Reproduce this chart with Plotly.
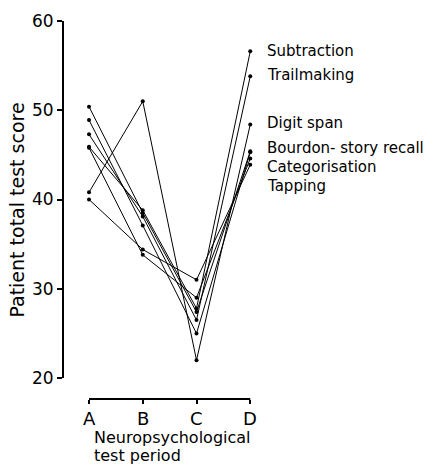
import plotly.graph_objects as go

periods = ["A", "B", "C", "D"]
series_names = ["Subtraction", "Trailmaking", "Digit span", "Bourdon", "Story recall", "Categorisation", "Tapping"]
subtraction = [45.9, 38.8, 27.8, 56.6]
trailmaking = [47.3, 38.1, 26.5, 53.8]
digit_span = [40.8, 51.0, 22.0, 48.4]
bourdon = [50.4, 38.5, 27.4, 45.4]
story_recall = [48.9, 37.1, 25.0, 45.3]
categorisation = [45.8, 33.8, 29.0, 44.6]
tapping = [40.0, 34.4, 31.0, 43.9]
all_series = [subtraction, trailmaking, digit_span, bourdon, story_recall, categorisation, tapping]

label_texts = ["Subtraction", "Trailmaking", "Digit span", "Bourdon- story recall", "Categorisation", "Tapping"]
label_y = [56.6, 53.9, 48.6, 45.8, 43.6, 41.5]
y_ticks = [20, 30, 40, 50, 60]

FONT = "DejaVu Sans"
fig = go.Figure()
for name, vals in zip(series_names, all_series):
    fig.add_trace(go.Scatter(
        x=periods, y=vals, mode="lines+markers", name=name,
        line=dict(color="black", width=1),
        marker=dict(color="black", size=4),
        showlegend=False, cliponaxis=False, hoverinfo="skip",
    ))

for t, yv in zip(label_texts, label_y):
    fig.add_annotation(x=1.02, y=yv, xref="paper", yref="y", text=t, showarrow=False,
                       xanchor="left", yanchor="middle",
                       font=dict(family=FONT, size=15, color="black"))

# x tick labels
for p in periods:
    fig.add_annotation(x=p, y=0, xref="x", yref="paper", text=p, showarrow=False,
                       xanchor="center", yanchor="middle", yshift=-19,
                       font=dict(family=FONT, size=18, color="black"))

# axis lines (y axis only spans 20-60, x axis only spans A-D)
fig.add_shape(type="line", xref="paper", yref="y", x0=0, x1=0, y0=20, y1=60,
              line=dict(color="black", width=2))
fig.add_shape(type="line", xref="x", yref="paper", x0=0, x1=3, y0=0, y1=0,
              line=dict(color="black", width=2))

fig.add_annotation(x=0, y=0, xref="x", yref="paper", xanchor="left", yanchor="middle",
                   text="Neuropsychological", showarrow=False, yshift=-38, xshift=3,
                   font=dict(family=FONT, size=16, color="black"))
fig.add_annotation(x=0, y=0, xref="x", yref="paper", xanchor="left", yanchor="middle",
                   text="test period", showarrow=False, yshift=-56, xshift=3,
                   font=dict(family=FONT, size=16, color="black"))

fig.update_layout(
    width=435, height=465,
    margin=dict(l=63, r=174, t=21, b=66),
    paper_bgcolor="white", plot_bgcolor="white",
    font=dict(family=FONT, size=16, color="black"),
    xaxis=dict(type="category", range=[-0.484, 3.2], showgrid=False, zeroline=False,
               showline=False, ticks="outside", ticklen=4, tickwidth=2, tickcolor="black",
               showticklabels=False, automargin=False),
    yaxis=dict(range=[17.65, 60], tickvals=y_ticks, showgrid=False, zeroline=False,
               showline=False, ticks="outside", ticklen=5, tickwidth=2, tickcolor="black",
               tickfont=dict(family=FONT, size=17), automargin=False,
               title=dict(text="Patient total test score", font=dict(family=FONT, size=19), standoff=2)),
)

fig.write_html("out.html", config={"displayModeBar": False},
               post_script="document.body.style.margin='0';")
